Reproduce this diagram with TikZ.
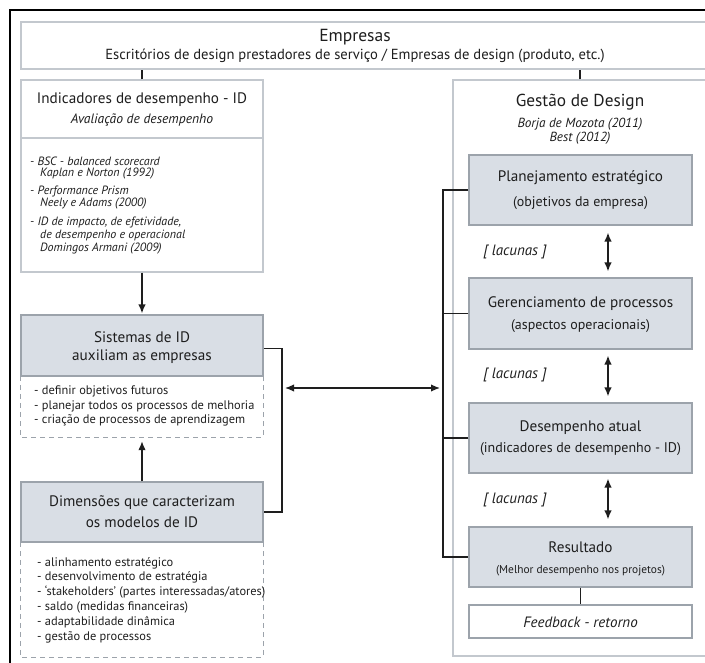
\documentclass[tikz,border=0pt]{standalone}
\usepackage{fontspec}
\setmainfont{PT Sans}
\usetikzlibrary{arrows.meta,calc}
\definecolor{boxfill}{HTML}{D9DEE5}
\definecolor{boxline}{HTML}{9CA3AB}
\definecolor{lightline}{HTML}{C3C8CE}
\definecolor{ink}{HTML}{1E1E1E}
\tikzset{
  txt/.style={text=ink, inner sep=0pt},
  lightbox/.style={draw=lightline, line width=1.2pt, fill=white, rectangle, inner sep=0pt},
  graybox/.style={draw=boxline, fill=boxfill, line width=1.2pt, rectangle, inner sep=0pt},
  plainbox/.style={rectangle, inner sep=0pt},
  dashbox/.style={draw=boxline, line width=1pt, dash pattern=on 5pt off 4pt},
  conn/.style={draw=ink, line width=1.4pt},
  tip/.style={-{Latex[length=9pt,width=7.5pt]}},
  dtip/.style={{Latex[length=9pt,width=7.5pt]}-{Latex[length=9pt,width=7.5pt]}},
  title/.style={txt, font=\fontsize{15.2}{17}\selectfont},
  sub/.style={txt, font=\fontsize{14}{16}\selectfont},
  item/.style={txt, anchor=west, font=\fontsize{12.4}{14}\selectfont},
  itit/.style={txt, anchor=west, font=\fontsize{12}{14}\itshape},
  lac/.style={txt, font=\fontsize{15}{17}\itshape}
}
\begin{document}
\begin{tikzpicture}[x=1pt,y=-1pt]
\useasboundingbox (0,0) rectangle (705,663);
\clip (0,0) rectangle (705,663);
% outer frame
\draw[line width=1.4pt, draw=black] (10,680) -- (10,10) -- (720,10);

% boxes
\node[lightbox, minimum width=686pt, minimum height=47pt] (emp) at (364,45.5) {};
\node[lightbox, minimum width=242pt, minimum height=192pt] (idbox) at (142,176) {};
\coordinate (idl) at (21,138);
\coordinate (idr) at (263,138);
\draw[draw=lightline, line width=1.2pt] (idl) -- (idr);

\node[graybox, minimum width=242pt, minimum height=61pt] (sis) at (142,345.5) {};
\node[plainbox, minimum width=242pt, minimum height=61pt] (sisd) at (142,406.5) {};
\draw[dashbox] (sisd.north west) -- (sisd.south west) -- (sisd.south east) -- (sisd.north east);

\node[graybox, minimum width=242pt, minimum height=60pt] (dim) at (142,512) {};
\node[plainbox, minimum width=242pt, minimum height=115pt] (dimd) at (142,599.5) {};
\draw[dashbox] (dimd.north west) -- (dimd.south west) -- (dimd.south east) -- (dimd.north east);

\node[lightbox, minimum width=254pt, minimum height=576pt] (ges) at (580,368) {};
\node[graybox, minimum width=223pt, minimum height=70pt] (plan) at (580.5,190) {};
\node[graybox, minimum width=223pt, minimum height=71pt] (ger) at (580.5,313.5) {};
\node[graybox, minimum width=223pt, minimum height=70pt] (des) at (580.5,438) {};
\node[graybox, minimum width=223pt, minimum height=60pt] (res) at (580.5,557) {};
\node[draw=boxline, line width=1.2pt, fill=white, rectangle, inner sep=0pt, minimum width=223pt, minimum height=33pt] (fb) at (580.5,621.5) {};

% texts: top
\node[txt, font=\fontsize{17.5}{19}\selectfont] (t-emp) at (355,37) {Empresas};
\node[txt, font=\fontsize{14.6}{16}\selectfont] (t-emp2) at (355,56) {Escritórios de design prestadores de serviço / Empresas de design (produto, etc.)};

% ID box
\node[title] (t-id) at (142,100) {Indicadores de desempenho - ID};
\node[txt, font=\fontsize{13.6}{15}\itshape] (t-id2) at (142,120) {Avaliação de desempenho};
\node[itit] (i1) at (30,161) {- BSC - balanced scorecard};
\node[itit] (i1b) at (40,174) {Kaplan e Norton (1992)};
\node[itit] (i2) at (30,191) {- Performance Prism};
\node[itit] (i2b) at (40,204) {Neely e Adams (2000)};
\node[itit] (i3) at (30,222) {- ID de impacto, de efetividade,};
\node[itit] (i3b) at (40,235) {de desempenho e operacional};
\node[itit] (i3c) at (40,249) {Domingos Armani (2009)};

% Sistemas
\node[title] (t-sis) at (142,337) {Sistemas de ID};
\node[title] (t-sis2) at (142,357) {auxiliam as empresas};
\node[item] (s1) at (34,391) {- definir objetivos futuros};
\node[item] (s2) at (34,406) {- planejar todos os processos de melhoria};
\node[item] (s3) at (34,420) {- criação de processos de aprendizagem};

% Dimensoes
\node[title] (t-dim) at (142,503) {Dimensões que caracterizam};
\node[title] (t-dim2) at (142,522) {os modelos de ID};
\node[item] (d1) at (37,563) {- alinhamento estratégico};
\node[item] (d2) at (37,577) {- desenvolvimento de estratégia};
\node[item] (d3) at (37,592) {- ‘stakeholders’ (partes interessadas/atores)};
\node[item] (d4) at (37,607) {- saldo (medidas financeiras)};
\node[item] (d5) at (37,622) {- adaptabilidade dinâmica};
\node[item] (d6) at (37,637) {- gestão de processos};

% Gestao
\node[txt, font=\fontsize{17.3}{19}\selectfont] (t-ges) at (580,102) {Gestão de Design};
\node[txt, font=\fontsize{13.2}{14}\itshape] (t-ges2) at (580,124) {Borja de Mozota (2011)};
\node[txt, font=\fontsize{13.2}{14}\itshape] (t-ges3) at (580,138) {Best (2012)};
\node[title] (t-plan) at (580.5,178) {Planejamento estratégico};
\node[sub] (t-plan2) at (580.5,203) {(objetivos da empresa)};
\node[title] (t-ger) at (580.5,304) {Gerenciamento de processos};
\node[sub] (t-ger2) at (580.5,326) {(aspectos operacionais)};
\node[title] (t-des) at (580.5,428) {Desempenho atual};
\node[sub] (t-des2) at (580.5,449) {(indicadores de desempenho - ID)};
\node[title] (t-res) at (580.5,547) {Resultado};
\node[txt, font=\fontsize{11.4}{13}\selectfont] (t-res2) at (580.5,571) {(Melhor desempenho nos projetos)};
\node[txt, font=\fontsize{15}{17}\itshape] (t-fb) at (580.5,622) {Feedback - retorno};
\node[lac] (l1) at (515,252) {[ lacunas ]};
\node[lac] (l2) at (515,375) {[ lacunas ]};
\node[lac] (l3) at (515,500) {[ lacunas ]};

% connectors
\draw[conn] (idbox.north) -- (idbox.north |- emp.south);
\draw[conn] (ges.north) -- (ges.north |- emp.south);
\draw[conn, tip] (idbox.south) -- ([yshift=1pt]sis.north);
\draw[conn, tip] (dim.north) -- ([yshift=-4pt]sisd.south);
\draw[conn] (res.south) -- (fb.north);

% left bracket
\coordinate (lb) at (282,388);
\draw[conn] ([yshift=-3pt]sis.east) -| (lb) |- (dim.east);
% right bracket
\coordinate (rb) at (443,388);
\draw[conn] (plan.west) -| (rb) |- (res.west);
\draw[conn] (ger.west) -- (ger.west -| rb);
\draw[conn] (des.west) -- (des.west -| rb);
\draw[conn, dtip] ([xshift=3pt]lb) -- ([xshift=-3pt]rb);

% vertical double arrows
\draw[conn, dtip] ([xshift=27.5pt,yshift=-7pt]plan.south) -- ([xshift=27.5pt,yshift=6pt]ger.north);
\draw[conn, dtip] ([xshift=27.5pt,yshift=-6pt]ger.south) -- ([xshift=27.5pt,yshift=6pt]des.north);
\draw[conn, dtip] ([xshift=27.5pt,yshift=-5pt]des.south) -- ([xshift=27.5pt,yshift=7pt]res.north);
\end{tikzpicture}
\end{document}
